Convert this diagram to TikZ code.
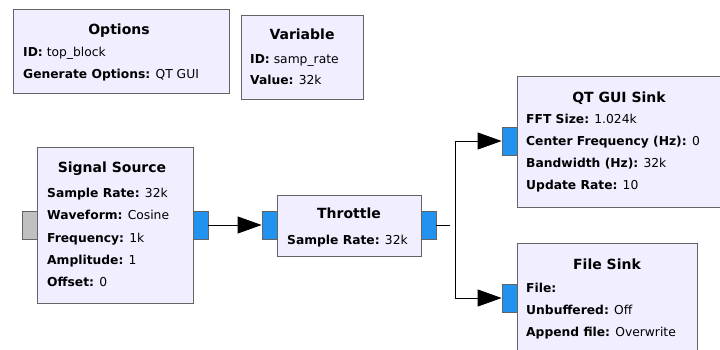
\documentclass[tikz,border=0pt]{standalone}
\usepackage{fontspec}
\setmainfont{DejaVu Sans}
\usetikzlibrary{arrows.meta}
\definecolor{boxfill}{RGB}{240,238,255}
\definecolor{boxborder}{RGB}{100,100,100}
\definecolor{portblue}{RGB}{34,146,240}
\definecolor{portgray}{RGB}{192,192,192}
\begin{document}
\begin{tikzpicture}[x=1pt,y=-1pt,
 blk/.style={draw=boxborder, fill=boxfill, line width=1pt, inner sep=0pt, anchor=north west},
 port/.style={draw=boxborder, fill=portblue, line width=0.8pt, inner sep=0pt, minimum width=15pt, minimum height=28pt},
 gport/.style={port, fill=portgray},
 ttl/.style={font=\fontsize{14}{14}\selectfont\bfseries, anchor=base, inner sep=0pt},
 prm/.style={font=\fontsize{12.3}{13}\selectfont, anchor=base west, inner sep=0pt},
 wire/.style={line width=0.9pt, black},
 arr/.style={wire, -{Triangle[length=24pt,width=17pt]}},
]
\useasboundingbox (0,0) rectangle (720,349);
\clip (0,0) rectangle (720,349);
\fill[white] (0,0) rectangle (720,349);

% Options
\node[blk, minimum width=216pt, minimum height=84pt] (opt) at (13,9) {};
\node[ttl] (optT) at (119,34) {Options};
\node[prm] (optA) at (23,56) {\textbf{ID:} top\_block};
\node[prm] (optB) at (23,78) {\textbf{Generate Options:} QT GUI};

% Variable
\node[blk, minimum width=122pt, minimum height=84pt] (var) at (241,15) {};
\node[ttl] (varT) at (302,39) {Variable};
\node[prm] (varA) at (250,63) {\textbf{ID:} samp\_rate};
\node[prm] (varB) at (250,84) {\textbf{Value:} 32k};

% Signal Source
\node[blk, minimum width=156pt, minimum height=156pt] (src) at (37,147) {};
\node[ttl] (srcT) at (112,172) {Signal Source};
\node[prm] (srcA) at (47,197) {\textbf{Sample Rate:} 32k};
\node[prm] (srcB) at (47,219) {\textbf{Waveform:} Cosine};
\node[prm] (srcC) at (47,242) {\textbf{Frequency:} 1k};
\node[prm] (srcD) at (47,264) {\textbf{Amplitude:} 1};
\node[prm] (srcE) at (47,286) {\textbf{Offset:} 0};
\node[gport] (srcin) at (29.5,225) {};
\node[port] (srcout) at (200.5,225) {};

% Throttle
\node[blk, minimum width=144pt, minimum height=61pt] (thr) at (277,195) {};
\node[ttl] (thrT) at (349,218) {Throttle};
\node[prm] (thrA) at (287,244) {\textbf{Sample Rate:} 32k};
\node[port] (thrin) at (269.5,225) {};
\node[port] (throut) at (428.5,225) {};

% QT GUI Sink
\node[blk, minimum width=206pt, minimum height=131pt] (qt) at (517,76) {};
\node[ttl] (qtT) at (619,102) {QT GUI Sink};
\node[prm] (qtA) at (526,123) {\textbf{FFT Size:} 1.024k};
\node[prm] (qtB) at (526,145) {\textbf{Center Frequency (Hz):} 0};
\node[prm] (qtC) at (526,167) {\textbf{Bandwidth (Hz):} 32k};
\node[prm] (qtD) at (526,189) {\textbf{Update Rate:} 10};
\node[port] (qtin) at (509.5,141) {};

% File Sink
\node[blk, minimum width=180pt, minimum height=130pt] (fs) at (517,243) {};
\node[ttl] (fsT) at (607,269) {File Sink};
\node[prm] (fsA) at (526,292) {\textbf{File:}};
\node[prm] (fsB) at (526,314) {\textbf{Unbuffered:} Off};
\node[prm] (fsC) at (526,336) {\textbf{Append file:} Overwrite};
\node[port] (fsin) at (509.5,298) {};

% connectors
\draw[arr] (srcout.east) -- (thrin.west);
\coordinate (stub) at (450,225);
\draw[wire] (throut.east) -- (stub);
\coordinate (vtop) at (455,141);
\draw[arr] (vtop) -- (qtin.west);
\draw[arr] (vtop) |- (fsin.west);
\end{tikzpicture}
\end{document}
